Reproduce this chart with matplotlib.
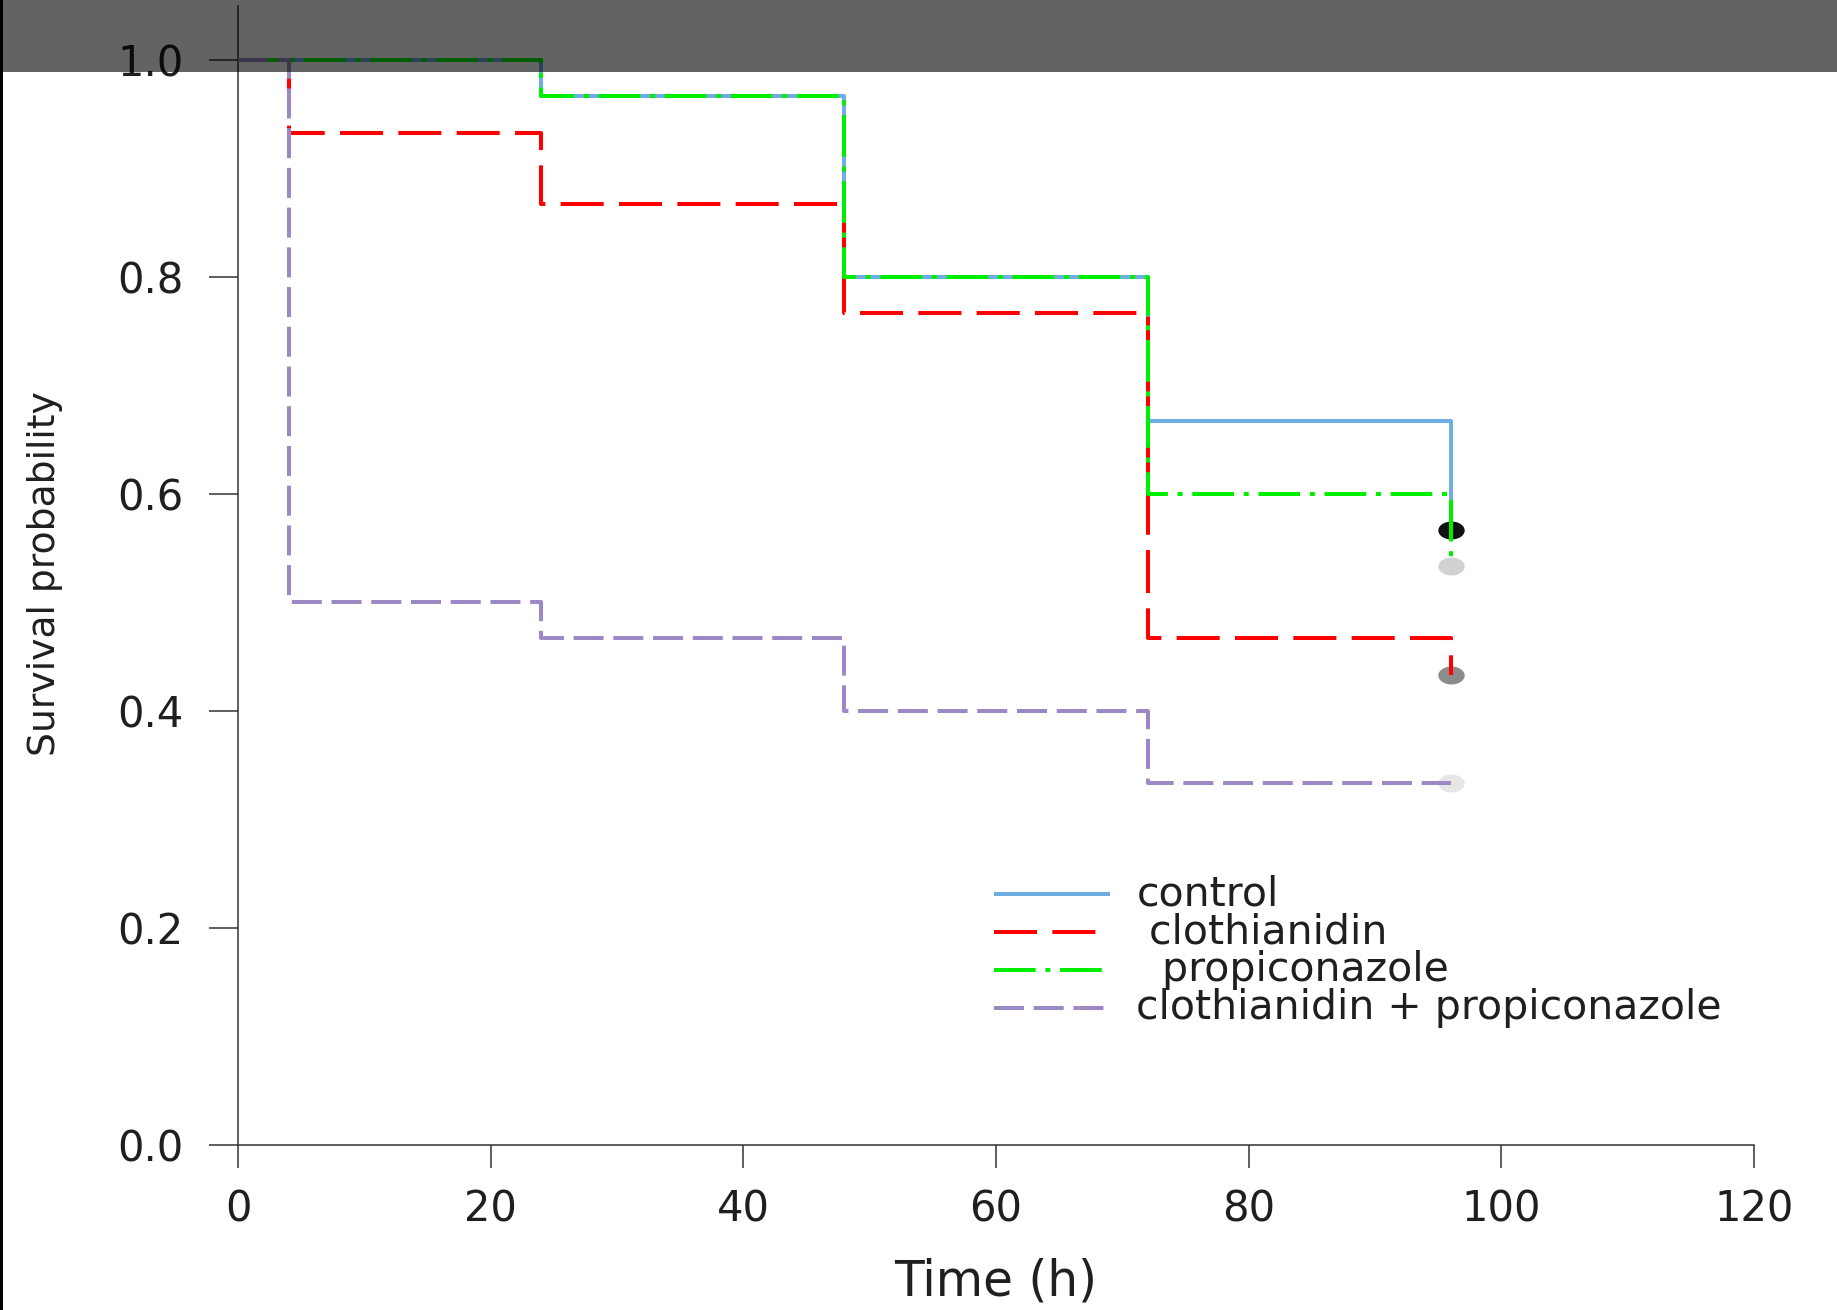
import matplotlib
matplotlib.use("Agg")
import matplotlib.pyplot as plt
import numpy as np
from matplotlib.path import Path
from matplotlib.lines import Line2D
from matplotlib.patches import Rectangle

# ---- data ----
times = [0, 4, 24, 48, 72, 96]
control = [1.0, 1.0, 0.967, 0.800, 0.667, 0.567]
clothianidin = [1.0, 0.933, 0.867, 0.767, 0.467, 0.433]
propiconazole = [1.0, 1.0, 0.967, 0.800, 0.600, 0.533]
combination = [1.0, 0.500, 0.467, 0.400, 0.333, 0.333]
labels = ["control", " clothianidin", "  propiconazole", "clothianidin + propiconazole"]
x_ticks = [0, 20, 40, 60, 80, 100, 120]
y_ticks = [0.0, 0.2, 0.4, 0.6, 0.8, 1.0]

plt.rcParams['font.family'] = ['DejaVu Sans']
plt.rcParams['lines.scale_dashes'] = False

W, H = 1837, 1310
fig = plt.figure(figsize=(W / 100, H / 100), dpi=100)
fig.patch.set_facecolor('white')

def fx(px):
    return px / W

def fy(py):
    return 1 - py / H

ax = fig.add_axes([fx(238), fy(1144.6), fx(1754) - fx(238), fy(5.6) - fy(1144.6)])
ax.set_xlim(0, 120)
ax.set_ylim(0, 1.05)
ax.set_facecolor('none')

colors = ['#6eaee2', '#ff0000', '#00ee00', '#9d88c6']
styles = [
    dict(linestyle='-'),
    dict(dashes=(31, 11)),
    dict(dashes=(30, 7, 3.6, 7)),
    dict(dashes=(21.6, 7)),
]
series = [control, clothianidin, propiconazole, combination]
marker_colors = ['#111111', '#8c8c8c', '#d2d2d2', '#e6e6e6']

# elliptical censor marker (source image is horizontally stretched)
th = np.linspace(0, 2 * np.pi, 60)
ell = Path(np.column_stack([np.cos(th), 0.68 * np.sin(th)]), closed=True)

for vals, mc in zip(series, marker_colors):
    ax.plot([times[-1]], [vals[-1]], linestyle='none', marker=ell, markersize=19,
            color=mc, markeredgewidth=0, zorder=2, clip_on=False)

for vals, c, st in zip(series, colors, styles):
    ax.step(times, vals, where='post', color=c, linewidth=2.9, zorder=3,
            clip_on=False, solid_capstyle='butt', **st)

# axes styling
for s in ['top', 'right']:
    ax.spines[s].set_visible(False)
for s in ['left', 'bottom']:
    ax.spines[s].set_color('#333333')
    ax.spines[s].set_linewidth(1.1)
ax.set_xticks(x_ticks)
ax.set_yticks(y_ticks)
ax.set_yticklabels([f"{v:.1f}" for v in y_ticks])
ax.tick_params(axis='x', direction='out', length=16.5, width=1.1, color='#333333',
               pad=15, labelsize=30, labelcolor='#1f1f1f')
ax.tick_params(axis='y', direction='out', length=21, width=1.1, color='#333333',
               pad=18, labelsize=30, labelcolor='#1f1f1f')

fig.text(fx(996), fy(1281), "Time (h)", ha='center', va='center', fontsize=35, color='#1f1f1f')
fig.text(fx(45), fy(574), "Survival probability", ha='center', va='center', rotation=90,
         fontsize=27.2, color='#1f1f1f')

# legend (manual)
rows_y = [894, 932, 970, 1008]
for yy, c, st, lab in zip(rows_y, colors, styles, labels):
    fig.add_artist(Line2D([fx(993.5), fx(1109.5)], [fy(yy), fy(yy)], color=c,
                          linewidth=2.9, solid_capstyle='butt', **st))
    fig.text(fx(1136.5), fy(yy), lab, ha='left', va='center', fontsize=29.5, color='#1f1f1f')

# dark translucent band on top and black left border
fig.add_artist(Rectangle((0, fy(72)), 1, 1 - fy(72), transform=fig.transFigure,
                         facecolor='black', alpha=0.61, edgecolor='none', zorder=20))
fig.add_artist(Rectangle((0, 0), fx(2.5), 1, transform=fig.transFigure,
                         facecolor='black', edgecolor='none', zorder=21))

fig.savefig("out.png", dpi=100)
